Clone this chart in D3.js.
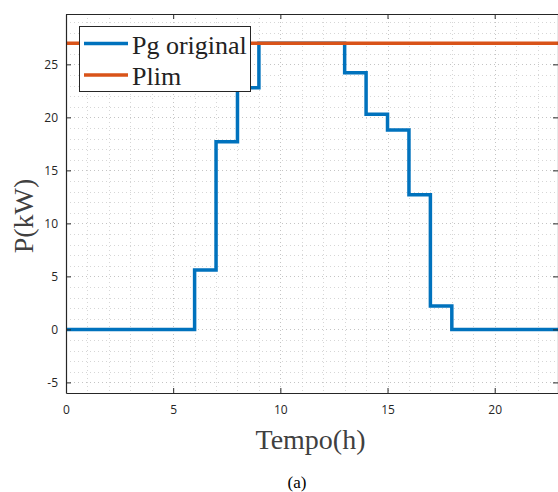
<!DOCTYPE html>
<html>
<head>
<meta charset="utf-8">
<script src="https://cdn.jsdelivr.net/npm/d3@7"></script>
<style>
  body { margin: 0; background: #fff; }
  svg { display: block; }
</style>
</head>
<body>
<div id="chart"></div>
<script>
// step data (hour start, value), last point closes the step
var hours   = [0, 6, 7, 8, 9, 13, 14, 15, 16, 17, 18, 23];
var pgOrig  = [0, 5.6, 17.7, 22.8, 27, 24.2, 20.3, 18.8, 12.7, 2.2, 0, 0];
var plim    = [27, 27];
var plimHrs = [0, 23];
var xTicks  = [0, 5, 10, 15, 20];
var yTicks  = [-5, 0, 5, 10, 15, 20, 25];
var seriesNames = ["Pg original", "Plim"];
var colors  = ["#0072BD", "#D95319"];

var W = 558, H = 492;
var axL = 66, axR = 559, axT = 14, axB = 393;

var svg = d3.select("#chart").append("svg").attr("width", W).attr("height", H);

var x = d3.scaleLinear().domain([0, 23]).range([axL, axR]);
var y = d3.scaleLinear().domain([-6, 29.75]).range([axB, axT]);

// grid (dotted, every unit)
var grid = svg.append("g");
grid.selectAll(".gx").data(d3.range(1, 23)).enter().append("line")
    .attr("x1", d => Math.round(x(d)) + 0.5).attr("x2", d => Math.round(x(d)) + 0.5)
    .attr("y1", axT).attr("y2", axB)
    .style("stroke", d => d % 5 == 0 ? "#c4c4c4" : "#d6d6d6")
    .style("stroke-width", 1)
    .style("stroke-dasharray", "1,3");
grid.selectAll(".gy").data(d3.range(-5, 30)).enter().append("line")
    .attr("x1", axL).attr("x2", axR)
    .attr("y1", d => Math.round(y(d)) + 0.5).attr("y2", d => Math.round(y(d)) + 0.5)
    .style("stroke", d => d % 5 == 0 ? "#c4c4c4" : "#d6d6d6")
    .style("stroke-width", 1)
    .style("stroke-dasharray", "1,3");

// lines
var pgData = hours.map((h, i) => [h, pgOrig[i]]);
var line = d3.line().x(d => x(d[0])).y(d => y(d[1])).curve(d3.curveStepAfter);
svg.append("path").datum(pgData).attr("d", line)
    .style("fill", "none").style("stroke", colors[0]).style("stroke-width", 3.5);

var plimData = plimHrs.map((h, i) => [h, plim[i]]);
svg.append("path").datum(plimData).attr("d", d3.line().x(d => x(d[0])).y(d => y(d[1])))
    .style("fill", "none").style("stroke", colors[1]).style("stroke-width", 3.5);

// axes
var tickColor = "#262626";
var xAxis = svg.append("g").attr("transform", "translate(0," + axB + ")")
    .call(d3.axisBottom(x).tickValues(xTicks).tickSizeInner(-5).tickSizeOuter(0).tickPadding(12));
var xTop = svg.append("g").attr("transform", "translate(0," + axT + ")")
    .call(d3.axisTop(x).tickValues(xTicks).tickSizeInner(-5).tickSizeOuter(0).tickFormat(""));
var yAxis = svg.append("g").attr("transform", "translate(" + axL + ",0)")
    .call(d3.axisLeft(y).tickValues(yTicks).tickSizeInner(-5).tickSizeOuter(0).tickPadding(8));
var yRight = svg.append("g").attr("transform", "translate(" + (axR - 1) + ",0)")
    .call(d3.axisRight(y).tickValues(yTicks).tickSizeInner(-5).tickSizeOuter(0).tickFormat(""));

[xAxis, xTop, yAxis, yRight].forEach(function (a) {
    a.select(".domain").style("stroke", tickColor).style("stroke-width", 1.2);
    a.selectAll(".tick line").style("stroke", tickColor);
    a.selectAll("text").style("fill", tickColor)
        .style("font-family", "'Open Sans', 'Noto Sans', sans-serif").style("font-size", "12px");
});
yAxis.selectAll("text").text(d => d < 0 ? "-" + Math.abs(d) : d);

// axis labels
svg.append("text").attr("x", (axL + axR) / 2 - 2).attr("y", 449)
    .attr("text-anchor", "middle")
    .style("font-family", "'Liberation Serif', serif").style("font-size", "28px").style("fill", "#404040")
    .text("Tempo(h)");
svg.append("text").attr("transform", "translate(33,216) rotate(-90)")
    .attr("text-anchor", "middle")
    .style("font-family", "'Liberation Serif', serif").style("font-size", "28px").style("fill", "#404040")
    .text("P(kW)");
svg.append("text").attr("x", 297).attr("y", 488)
    .attr("text-anchor", "middle")
    .style("font-family", "'Liberation Serif', serif").style("font-size", "17px").style("fill", "#000")
    .text("(a)");

// legend
var lg = svg.append("g");
lg.append("rect").attr("x", 79.5).attr("y", 26.5).attr("width", 171).attr("height", 65)
    .style("fill", "#fff").style("stroke", "#262626").style("stroke-width", 1);
seriesNames.forEach(function (name, i) {
    var ly = 43.5 + i * 31.5;
    lg.append("line").attr("x1", 84).attr("x2", 128).attr("y1", ly).attr("y2", ly)
        .style("stroke", colors[i]).style("stroke-width", 3.5);
    lg.append("text").attr("x", 132).attr("y", ly + 10)
        .style("font-family", "'Liberation Serif', serif").style("font-size", "26px").style("fill", "#222")
        .text(name);
});
</script>
</body>
</html>
